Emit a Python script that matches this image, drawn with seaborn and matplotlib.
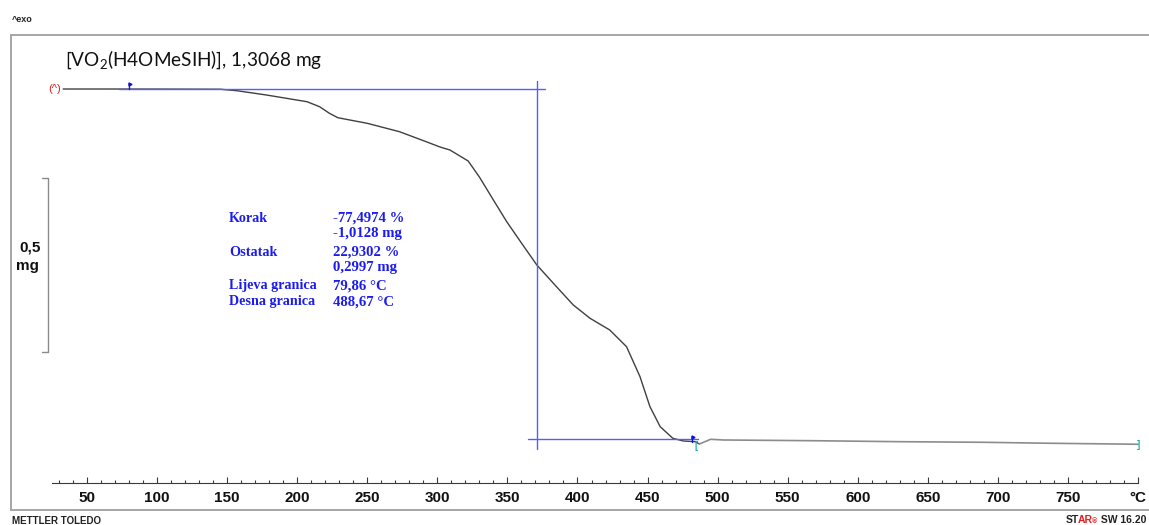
import numpy as np
import pandas as pd
import matplotlib
matplotlib.use("Agg")
import matplotlib.pyplot as plt
import seaborn as sns
from matplotlib.ticker import FixedLocator
from matplotlib.offsetbox import TextArea, HPacker, AnchoredOffsetbox

# ---------------- data ----------------
temp_c = [33, 60, 100, 145, 157, 178, 207, 216, 223, 229,
          250, 273, 292, 302, 309, 322, 330, 340, 349.5, 361,
          371, 385, 397, 409, 423, 435, 444.6, 451.7, 459, 468,
          475.5, 484, 487, 495, 504, 566, 630, 689, 737, 800]
mass_mg = [1.3068, 1.3068, 1.3066, 1.3062, 1.3019, 1.2896, 1.2703, 1.2559, 1.2370, 1.2243,
           1.2082, 1.1841, 1.1554, 1.1400, 1.1315, 1.0999, 1.0539, 0.9878, 0.9255, 0.8585,
           0.8010, 0.7387, 0.6861, 0.6478, 0.6143, 0.5663, 0.4801, 0.3939, 0.3364, 0.3031,
           0.2953, 0.2933, 0.2867, 0.3002, 0.2982, 0.2962, 0.2933, 0.2916, 0.2888, 0.2859]
split_temp = 487          # curve is drawn lighter after the step

tick_values = [50, 100, 150, 200, 250, 300, 350, 400, 450, 500, 550, 600, 650, 700, 750, 800]
tick_labels = ["50", "100", "150", "200", "250", "300", "350", "400", "450", "500",
               "550", "600", "650", "700", "750", "°C"]

# step evaluation construction lines
top_line_T = [73, 377]
top_line_m = [1.3068, 1.3068]
vert_line_T = [371.3, 371.3]
vert_line_m = [1.3306, 0.2723]
bot_line_T = [364.7, 486]
bot_line_m = [0.2997, 0.2997]
flag_T = [79.86, 481.6]
flag_m = [1.3068, 0.2935]

# scale bar (0,5 mg)
scale_T = [17.9, 22.4, 22.4, 17.9]
scale_m = [1.05, 1.05, 0.55, 0.55]

result_names = ["Korak", "", "Ostatak", "", "Lijeva granica", "Desna granica"]
result_values = ["-77,4974 %", "-1,0128 mg", "22,9302 %", "0,2997 mg", "79,86 °C", "488,67 °C"]

title = "[VO$_2$(H4OMeSIH)], 1,3068 mg"

# ---------------- figure ----------------
sns.set_theme(style="white")
plt.rcParams["font.family"] = ["Liberation Sans", "DejaVu Sans"]
plt.rcParams["mathtext.fontset"] = "custom"
plt.rcParams["mathtext.rm"] = "Lato"
plt.rcParams["mathtext.default"] = "regular"

W_PX, H_PX = 1149, 525
fig = plt.figure(figsize=(W_PX / 100, H_PX / 100), dpi=100)
fig.patch.set_facecolor("white")

left_px, right_px, top_px, bot_px = 10.7, 1150.0, 35.0, 510.0
L = left_px / W_PX
Wd = (right_px - left_px) / W_PX
B = (H_PX - bot_px) / H_PX
Hd = (bot_px - top_px) / H_PX

ax = fig.add_axes([L, B, Wd, Hd])
x_lim = (-4.424, 808.5)
y_lim = (0.0970, 1.4620)

df = pd.DataFrame({"T": temp_c, "m": mass_mg})
seg1 = df[df["T"] <= split_temp]
seg2 = df[df["T"] >= split_temp]
sns.lineplot(data=seg1, x="T", y="m", ax=ax, color="#404040", lw=1.0, sort=False)
sns.lineplot(data=seg2, x="T", y="m", ax=ax, color="#8c8c8c", lw=1.2, sort=False)

blue = "#5a5aff"
ax.plot(top_line_T, top_line_m, color=blue, lw=1.0)
ax.plot(vert_line_T, vert_line_m, color=blue, lw=1.0)
ax.plot(bot_line_T, bot_line_m, color=blue, lw=1.0)
flag_h = 0.017
for ft, fm in zip(flag_T, flag_m):
    ax.plot([ft, ft], [fm, fm + flag_h], color="#1010e0", lw=1.0)
    ax.plot([ft + 0.8], [fm + flag_h * 0.8], marker=">", ms=2.2, color="#1010e0")

ax.plot(scale_T, scale_m, color="#8a8a8a", lw=1.0)

# start / end markers
ax.text(27.2, mass_mg[0], "(^)", color="#e02020", fontsize=8, ha="center", va="center")
ax.text(484.5, 0.2815, "[", color="#20b0b0", fontsize=7, fontweight="bold", ha="center", va="center")
ax.text(800.5, 0.2845, "]", color="#20b0b0", fontsize=7, fontweight="bold", ha="center", va="center")

ax.set_xlim(*x_lim)
ax.set_ylim(*y_lim)
ax.set_xticks([])
ax.set_yticks([])
ax.set_xlabel("")
ax.set_ylabel("")
for s in ["top", "left", "bottom"]:
    ax.spines[s].set_visible(True)
    ax.spines[s].set_color("#a6a6a6")
    ax.spines[s].set_linewidth(1.4)
ax.spines["right"].set_visible(False)

# temperature scale inside the frame
axis_y_px = 483
tax = fig.add_axes([L, (H_PX - axis_y_px) / H_PX, Wd, 1e-5])
tax.set_xlim(*x_lim)
tax.patch.set_alpha(0)
for s in ["top", "left", "right"]:
    tax.spines[s].set_visible(False)
tax.spines["bottom"].set_visible(True)
tax.spines["bottom"].set_bounds(25, 800)
tax.spines["bottom"].set_color("#3a3a3a")
tax.spines["bottom"].set_linewidth(0.8)
tax.set_yticks([])
tax.xaxis.set_major_locator(FixedLocator(tick_values))
tax.set_xticklabels(tick_labels)
tax.xaxis.set_minor_locator(FixedLocator(list(range(30, 800, 10))))
tax.tick_params(axis="x", which="both", bottom=True, top=False)
tax.tick_params(axis="x", which="major", direction="in", length=4.5, width=0.8,
                color="#3a3a3a", pad=6, labelsize=11, labelcolor="#111111")
tax.tick_params(axis="x", which="minor", direction="in", length=2.5, width=0.8,
                color="#3a3a3a")
for lab in tax.get_xticklabels():
    lab.set_fontweight("bold")

# ---------------- texts ----------------
def fx(px):
    return px / W_PX

def fy(py):
    return 1 - py / H_PX

fig.text(fx(12), fy(20), "^exo", fontsize=6.5, fontweight="bold", color="#222222",
         ha="left", va="center")
fig.text(fx(65), fy(60), title, fontsize=13.7, family=["Lato", "DejaVu Sans"],
         color="#111111", ha="left", va="center")
fig.text(fx(30), fy(248), "0,5", fontsize=11, fontweight="bold", color="#111111",
         ha="center", va="center")
fig.text(fx(27.5), fy(266), "mg", fontsize=11, fontweight="bold", color="#111111",
         ha="center", va="center")

row_y = [218, 234, 252, 268, 286, 302]
tcol = "#1c1cee"
for name, val, yy in zip(result_names, result_values, row_y):
    if name:
        fig.text(fx(229), fy(yy), name, fontsize=10.2, fontweight="bold", color=tcol,
                 family=["Liberation Serif", "DejaVu Serif"], ha="left", va="center")
    fig.text(fx(333), fy(yy), val, fontsize=10.6, fontweight="bold", color=tcol,
             family=["Liberation Serif", "DejaVu Serif"], ha="left", va="center")

fig.text(fx(12), fy(521), "METTLER TOLEDO", fontsize=7, fontweight="bold",
         color="#222222", ha="left", va="center")

# "STAR® SW 16.20" footer, right aligned
def _ta(t, c, s):
    return TextArea(t, textprops=dict(color=c, fontsize=s, fontweight="bold"))

star = HPacker(children=[_ta("ST", "#222222", 7.5), _ta("AR", "#e02020", 7.5)],
               pad=0, sep=-1.0, align="baseline")
pack = HPacker(children=[star, _ta("®", "#e02020", 5), _ta(" SW 16.20", "#222222", 7.5)],
               pad=0, sep=0, align="baseline")
anch = AnchoredOffsetbox(loc="center right", child=pack, pad=0, borderpad=0,
                         frameon=False, bbox_to_anchor=(fx(1146), fy(520)),
                         bbox_transform=fig.transFigure)
fig.add_artist(anch)

fig.savefig("out.png", dpi=100, facecolor="white")
